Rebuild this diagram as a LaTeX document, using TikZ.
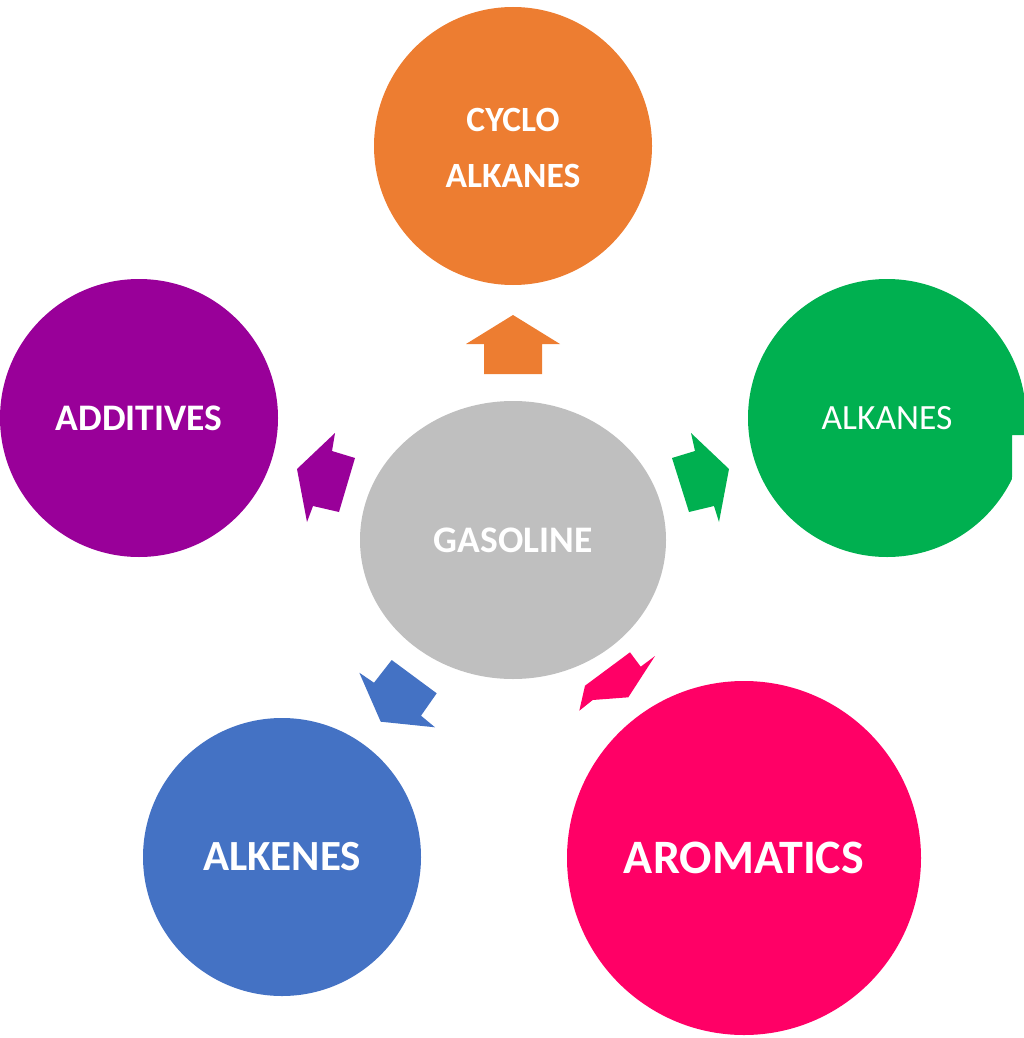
\documentclass[tikz,border=0pt]{standalone}
\usepackage{fontspec}
\setmainfont{Carlito}
\usetikzlibrary{shapes.geometric}
\definecolor{cOrange}{HTML}{ED7D31}
\definecolor{cGreen}{HTML}{00B050}
\definecolor{cPurple}{HTML}{990099}
\definecolor{cBlue}{HTML}{4472C4}
\definecolor{cPink}{HTML}{FF0066}
\definecolor{cGray}{HTML}{BFBFBF}
\begin{document}
\begin{tikzpicture}[x=1pt,y=-1pt,
  bubble/.style={circle, inner sep=0pt, minimum size=278pt, text=white,
    align=center, font=\bfseries\fontsize{35.5}{55.5}\selectfont},
  hub/.style={ellipse, inner sep=0pt, minimum width=306pt, minimum height=278pt,
    fill=cGray, text=white, font=\bfseries\fontsize{37.5}{44}\selectfont}]
\useasboundingbox (0,0) rectangle (1024,1038);

% centre
\node[hub] (gas) at (513,540) {GASOLINE};

% outer bubbles
\node[bubble, fill=cOrange] (cyclo) at (513,146) {};
\node[text=white, align=center, font=\bfseries\fontsize{35.5}{55.5}\selectfont]
  (cyclotext) at (513,148) {CYCLO\\ALKANES};
\node[bubble, fill=cPurple, font=\bfseries\fontsize{37.5}{44}\selectfont] (add) at (139,418) {ADDITIVES};
\node[bubble, fill=cBlue, font=\bfseries\fontsize{43}{50}\selectfont] (alkenes) at (282,857) {ALKENES};
\node[bubble, fill=cPink, minimum size=354pt,
  font=\bfseries\fontsize{48}{56}\selectfont] (arom) at (744,858) {AROMATICS};
\begin{scope}
  \clip (0,0) -- (1024,0) -- (1024,435) -- (1012,435) -- (1012,1038) -- (0,1038) -- cycle;
  \node[bubble, fill=cGreen, font=\fontsize{35.5}{42}\selectfont] (alkanes) at (887,418) {ALKANES};
\end{scope}

% block arrows
\fill[cOrange] (484,374) -- (484,344) -- (466,344) -- (513,315) -- (560,344)
  -- (542,344) -- (542,374) -- cycle;
\fill[cGreen] (672,458) -- (695,451) -- (691,433) -- (729,469) -- (719,522)
  -- (714,506) -- (689,512) -- cycle;
\fill[cPurple] (335,433) -- (332,451) -- (355,458) -- (339,512) -- (313,506)
  -- (307,522) -- (297,469) -- cycle;
\fill[cBlue] (391.7,660) -- (436.7,693.3) -- (421,715.7) -- (435,727.3)
  -- (380.7,721.7) -- (359.3,672.7) -- (374,682.7) -- cycle;
\fill[cPink] (630,652.3) -- (640.7,666.7) -- (655,656) -- (628.3,697.3)
  -- (592.7,700) -- (579.3,710.7) -- (585,685.7) -- cycle;
\end{tikzpicture}
\end{document}
